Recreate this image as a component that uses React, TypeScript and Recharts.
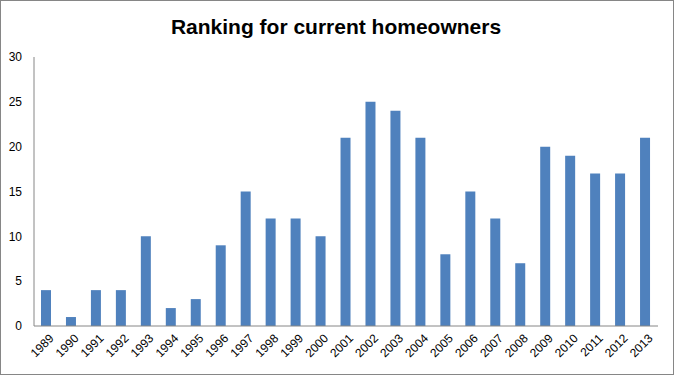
import React from 'react'
import { BarChart, Bar, XAxis, YAxis } from 'recharts'

const years = [
  '1989', '1990', '1991', '1992', '1993', '1994', '1995', '1996', '1997', '1998',
  '1999', '2000', '2001', '2002', '2003', '2004', '2005', '2006', '2007', '2008',
  '2009', '2010', '2011', '2012', '2013',
]
const ranking = [4, 1, 4, 4, 10, 2, 3, 9, 15, 12, 12, 10, 21, 25, 24, 21, 8, 15, 12, 7, 20, 19, 17, 17, 21]
const yTicks = [0, 5, 10, 15, 20, 25, 30]

const data = years.map((year, i) => ({ year, value: ranking[i] }))

const FONT = '"Liberation Sans", Arial, sans-serif'

function YearTick(props: any) {
  const { x, y, payload } = props
  return (
    <g transform={`translate(${x + 8},${y + 13})`}>
      <text transform="rotate(-45)" textAnchor="end" fontSize={12} fontFamily={FONT} fill="#000">
        {payload.value}
      </text>
    </g>
  )
}

export default function App() {
  return (
    <div style={{ position: 'relative', width: 674, height: 375, background: '#fff' }}>
      <style>{'body{margin:0}'}</style>
      <BarChart
        width={674}
        height={375}
        data={data}
        margin={{ top: 57, right: 16, left: 0, bottom: 0 }}
        barSize={10}
        style={{ position: 'absolute', left: 0, top: 0 }}
      >
        <text x={336} y={34} textAnchor="middle" fontSize={21} fontWeight="bold" fontFamily={FONT} fill="#000">
          Ranking for current homeowners
        </text>
        <XAxis
          dataKey="year"
          height={49}
          interval={0}
          tickLine={false}
          tickSize={0}
          tickMargin={0}
          axisLine={{ stroke: '#868686' }}
          tick={<YearTick />}
        />
        <YAxis
          width={34}
          domain={[0, 30]}
          ticks={yTicks}
          tickLine={false}
          tickSize={0}
          tickMargin={12}
          axisLine={{ stroke: '#868686' }}
          tick={{ fontSize: 12, fontFamily: FONT, fill: '#000' }}
        />
        <Bar dataKey="value" fill="#4F81BD" isAnimationActive={false} />
      </BarChart>
      <div
        style={{
          position: 'absolute',
          left: 0,
          top: 0,
          width: 674,
          height: 375,
          boxSizing: 'border-box',
          border: '1px solid #868686',
          pointerEvents: 'none',
        }}
      />
    </div>
  )
}
